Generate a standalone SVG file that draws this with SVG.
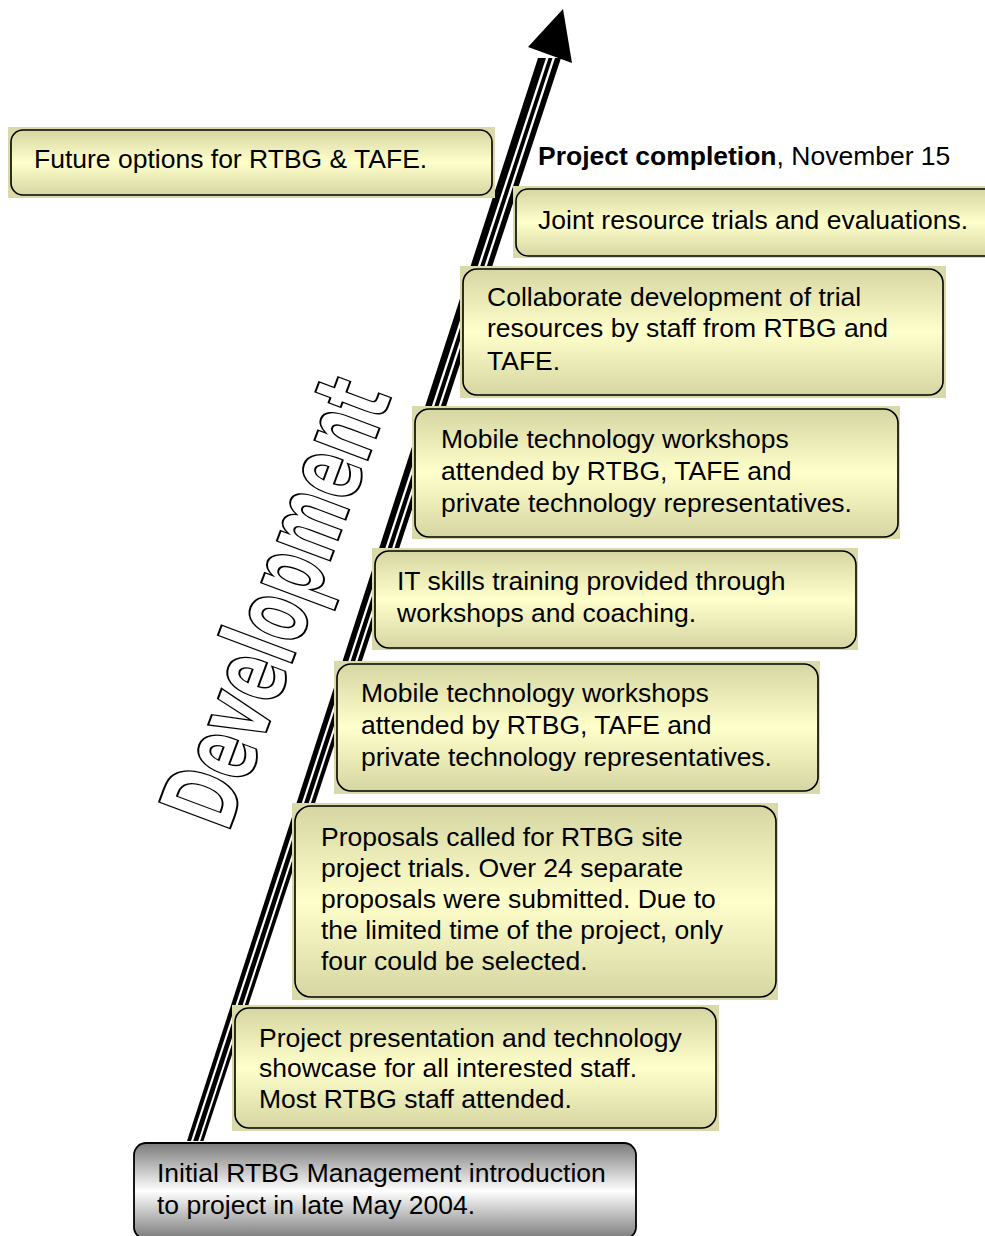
<svg xmlns="http://www.w3.org/2000/svg" width="985" height="1236" viewBox="0 0 985 1236">
<defs>
<linearGradient id="gy" x1="0" y1="0" x2="0" y2="1">
<stop offset="0" stop-color="#d6d6a2"/>
<stop offset="0.5" stop-color="#ffffcc"/>
<stop offset="1" stop-color="#d6d6a2"/>
</linearGradient>
<linearGradient id="gg" x1="0" y1="0" x2="0" y2="1">
<stop offset="0" stop-color="#7a7a7a"/>
<stop offset="0.5" stop-color="#ffffff"/>
<stop offset="1" stop-color="#7a7a7a"/>
</linearGradient>
<style>
.bg{fill:#dadaa8;}
.bx{fill:url(#gy);stroke:#000;stroke-width:1.6;}
.gx{fill:url(#gg);stroke:#000;stroke-width:1.8;}
.t{font-family:"Liberation Sans",Arial,sans-serif;font-size:26.5px;fill:#000;}
.dev{font-family:"DejaVu Sans","Liberation Sans",sans-serif;font-weight:bold;font-size:104px;fill:#fff;stroke:#000;stroke-width:2;}
</style>
</defs>

<g id="connectors">
<polygon points="187,1141 203.5,1141 561,58 538,58" fill="#000"/>
<polygon points="191,1141 193.2,1141 548.5,58 546,58" fill="#fff"/>
<polygon points="198.2,1141 200.2,1141 555,58 552.5,58" fill="#fff"/>
<polygon points="563,9 528,47 572,63" fill="#000"/>
</g>

<g id="development-label">
<text class="dev" transform="translate(228,834) rotate(-69.5)" x="0" y="0" textLength="468" lengthAdjust="spacingAndGlyphs">Development</text>
</g>

<g id="node-future">
<rect class="bg" x="8" y="127" width="487" height="71"/>
<rect class="bx" x="11" y="130" width="481" height="65" rx="12"/>
<text class="t" x="34" y="168">Future options for RTBG &amp; TAFE.</text>
</g>

<g id="node-completion">
<text class="t" x="538" y="165"><tspan font-weight="bold">Project completion</tspan>, November 15</text>
</g>

<g id="node-joint">
<rect class="bg" x="513" y="186" width="472" height="72"/>
<rect class="bx" x="516" y="189" width="480" height="67" rx="12"/>
<text class="t" x="538" y="229">Joint resource trials and evaluations.</text>
</g>

<g id="node-collaborate">
<rect class="bg" x="460" y="266" width="486" height="132"/>
<rect class="bx" x="463" y="269" width="480" height="126" rx="14"/>
<text class="t" x="487" y="306">Collaborate development of trial</text>
<text class="t" x="487" y="337">resources by staff  from RTBG and</text>
<text class="t" x="487" y="370">TAFE.</text>
</g>

<g id="node-mobile1">
<rect class="bg" x="412" y="406" width="488" height="133"/>
<rect class="bx" x="415" y="409" width="483" height="128" rx="14"/>
<text class="t" x="441" y="448">Mobile technology workshops</text>
<text class="t" x="441" y="480">attended by RTBG, TAFE and</text>
<text class="t" x="441" y="512">private technology representatives.</text>
</g>

<g id="node-it">
<rect class="bg" x="372" y="548" width="486" height="102"/>
<rect class="bx" x="375" y="551" width="481" height="97" rx="14"/>
<text class="t" x="397" y="590">IT skills training provided through</text>
<text class="t" x="397" y="622">workshops and coaching.</text>
</g>

<g id="node-mobile2">
<rect class="bg" x="334" y="661" width="486" height="133"/>
<rect class="bx" x="337" y="664" width="481" height="127" rx="14"/>
<text class="t" x="361" y="702">Mobile technology workshops</text>
<text class="t" x="361" y="734">attended by RTBG, TAFE and</text>
<text class="t" x="361" y="766">private technology representatives.</text>
</g>

<g id="node-proposals">
<rect class="bg" x="292" y="803" width="486" height="197"/>
<rect class="bx" x="295" y="806" width="481" height="191" rx="16"/>
<text class="t" x="321" y="846">Proposals called for RTBG site</text>
<text class="t" x="321" y="877">project trials. Over 24 separate</text>
<text class="t" x="321" y="908">proposals were submitted. Due to</text>
<text class="t" x="321" y="939">the limited time of the project, only</text>
<text class="t" x="321" y="970">four could be selected.</text>
</g>

<g id="node-presentation">
<rect class="bg" x="232" y="1005" width="487" height="126"/>
<rect class="bx" x="235" y="1008" width="481" height="120" rx="14"/>
<text class="t" x="259" y="1047">Project presentation and technology</text>
<text class="t" x="259" y="1077">showcase for all interested staff.</text>
<text class="t" x="259" y="1108">Most RTBG staff attended.</text>
</g>

<g id="node-initial">
<rect class="gx" x="134" y="1143" width="502" height="96" rx="12"/>
<text class="t" x="157" y="1182">Initial RTBG Management introduction</text>
<text class="t" x="157" y="1214">to project in late May 2004.</text>
</g>
</svg>
